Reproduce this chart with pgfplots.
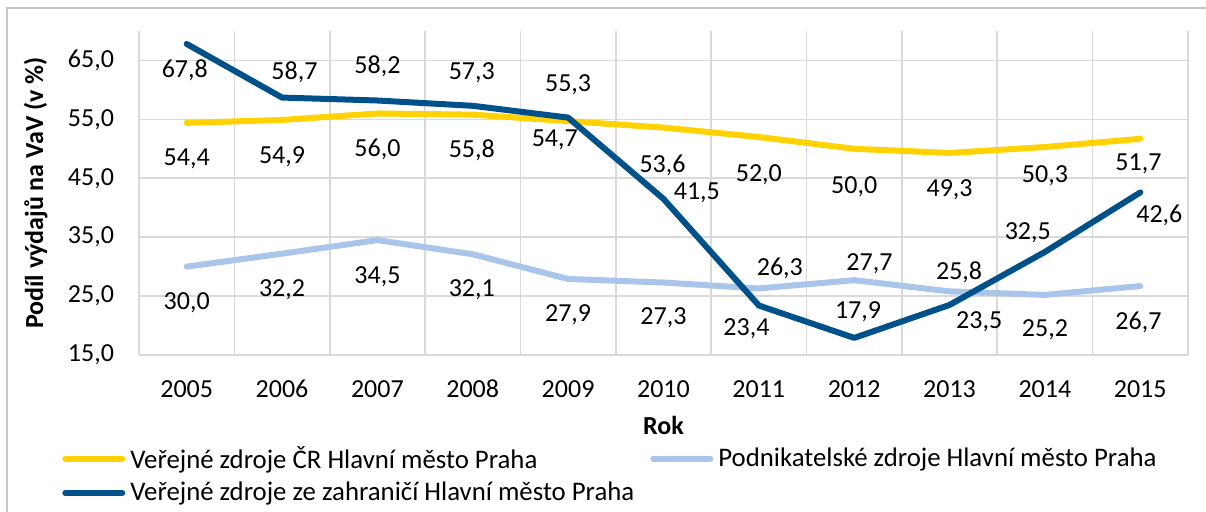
\documentclass[border=0pt]{standalone}
\usepackage{fontspec}
\setmainfont{Carlito}
\usepackage{pgfplots}
\pgfplotsset{compat=1.18}

\definecolor{verejne}{HTML}{FFD200}
\definecolor{podnik}{HTML}{A9C6EA}
\definecolor{zahr}{HTML}{00508A}
\definecolor{gridc}{HTML}{D9D9D9}
\definecolor{framec}{HTML}{C4C4C4}

\begin{document}
\begin{tikzpicture}[font=\fontsize{13}{15.5}\selectfont]
\path[use as bounding box] (0,0) rectangle (603pt,256pt);
\draw[framec, line width=0.8pt] (3.5pt,-20pt) -- (3.5pt,252pt) -- (620pt,252pt);
\begin{axis}[
    at={(69.5pt,78.5pt)}, anchor=south west,
    scale only axis, width=524.5pt, height=162pt,
    xmin=2004.5, xmax=2015.5, ymin=15, ymax=70,
    xtick={2005,...,2015}, ytick={15,25,...,65},
    minor xtick={2004.5,2005.5,...,2015.5},
    xminorgrids, ymajorgrids,
    grid style={gridc, line width=0.8pt},
    minor grid style={gridc, line width=0.8pt},
    axis line style={draw=none},
    major tick length=0pt, minor tick length=0pt,
    /pgf/number format/assume math mode=true,
    xticklabel style={/pgf/number format/1000 sep={}, text height=9pt, text depth=0pt,
        anchor=north, yshift=-8.5pt},
    yticklabel style={/pgf/number format/fixed, /pgf/number format/fixed zerofill,
        /pgf/number format/precision=1, /pgf/number format/use comma, xshift=-9pt},
    xlabel={\textbf{Rok}},
    xlabel style={at={(axis description cs:0.5,-0.216)}, anchor=center},
    ylabel={\textbf{Podíl výdajů na VaV (v \%)}},
    ylabel style={at={(axis description cs:-0.0985,0.5)}, anchor=center},
    clip=false,
    legend columns=2,
    legend cell align=left,
    legend image code/.code={\draw[#1] (0pt,0pt) -- (28.5pt,0pt);},
    legend style={at={(-0.0735,-0.28)}, anchor=north west, draw=none, fill=none,
        font=\fontsize{13.4}{16}\selectfont,
        inner sep=0pt, row sep=5.6pt, nodes={inner sep=0pt},
        /tikz/every odd column/.append style={column sep=2.5pt},
        /tikz/every even column/.append style={column sep=8pt}},
    every axis plot/.append style={line width=3pt, line cap=round, line join=round},
  ]
  \addplot[verejne] coordinates {
    (2005,54.4) (2006,54.9) (2007,56.0) (2008,55.8) (2009,54.7) (2010,53.6)
    (2011,52.0) (2012,50.0) (2013,49.3) (2014,50.3) (2015,51.7) };
  \addplot[podnik] coordinates {
    (2005,30.0) (2006,32.2) (2007,34.5) (2008,32.1) (2009,27.9) (2010,27.3)
    (2011,26.3) (2012,27.7) (2013,25.8) (2014,25.2) (2015,26.7) };
  \addplot[zahr] coordinates {
    (2005,67.8) (2006,58.7) (2007,58.2) (2008,57.3) (2009,55.3) (2010,41.5)
    (2011,23.4) (2012,17.9) (2013,23.5) (2014,32.5) (2015,42.6) };
  \legend{Veřejné zdroje ČR Hlavní město Praha, Podnikatelské zdroje Hlavní město Praha,
    Veřejné zdroje ze zahraničí Hlavní město Praha}

  % data labels, placed as in the original
  \node at (axis cs:2005.00,48.22) {54,4};
  \node at (axis cs:2006.00,48.73) {54,9};
  \node at (axis cs:2007.00,49.92) {56,0};
  \node at (axis cs:2007.99,49.75) {55,8};
  \node at (axis cs:2008.86,51.61) {54,7};
  \node at (axis cs:2009.99,47.20) {53,6};
  \node at (axis cs:2011.00,45.68) {52,0};
  \node at (axis cs:2012.00,43.64) {50,0};
  \node at (axis cs:2013.00,42.97) {49,3};
  \node at (axis cs:2014.00,45.51) {50,3};
  \node at (axis cs:2014.98,47.54) {51,7};

  \node at (axis cs:2005.00,23.81) {30,0};
  \node at (axis cs:2006.00,26.02) {32,2};
  \node at (axis cs:2007.00,28.22) {34,5};
  \node at (axis cs:2007.99,26.02) {32,1};
  \node at (axis cs:2009.00,21.78) {27,9};
  \node at (axis cs:2010.00,21.27) {27,3};
  \node at (axis cs:2011.22,29.75) {26,3};
  \node at (axis cs:2012.16,30.42) {27,7};
  \node at (axis cs:2013.10,29.07) {25,8};
  \node at (axis cs:2014.00,19.24) {25,2};
  \node at (axis cs:2014.98,20.59) {26,7};

  \node at (axis cs:2004.98,63.31) {67,8};
  \node at (axis cs:2006.13,62.97) {58,7};
  \node at (axis cs:2007.00,63.98) {58,2};
  \node at (axis cs:2007.99,62.97) {57,3};
  \node at (axis cs:2009.00,60.93) {55,3};
  \node at (axis cs:2010.35,42.46) {41,5};
  \node at (axis cs:2010.87,19.41) {23,4};
  \node at (axis cs:2012.04,22.29) {17,9};
  \node at (axis cs:2013.31,20.59) {23,5};
  \node at (axis cs:2013.82,35.68) {32,5};
  \node at (axis cs:2015.20,38.73) {42,6};
\end{axis}
\end{tikzpicture}
\end{document}
